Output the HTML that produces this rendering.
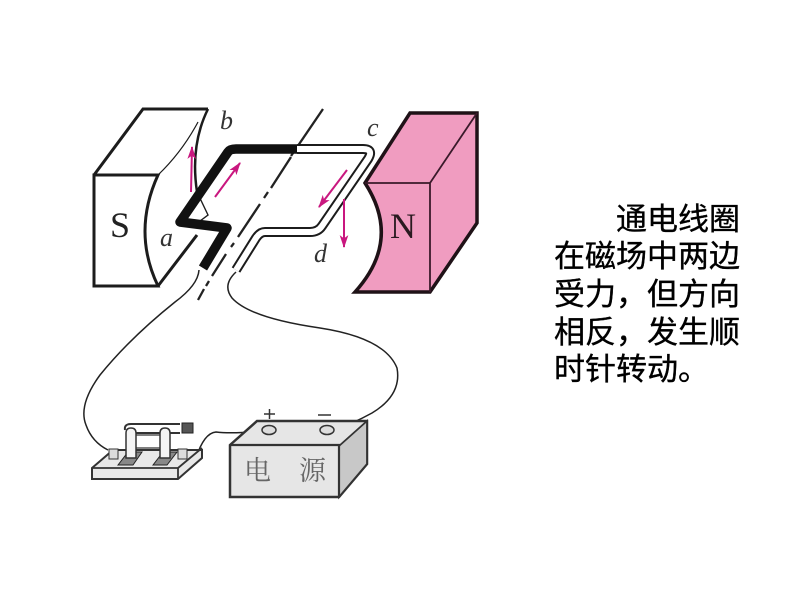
<!DOCTYPE html>
<html><head><meta charset="utf-8">
<style>
html,body{margin:0;padding:0;background:#fff;width:800px;height:600px;overflow:hidden}
svg{position:absolute;left:0;top:0}
.t{position:absolute;left:554px;width:200px;font:31px/31px "Liberation Sans","Noto Sans CJK SC",sans-serif;color:#000;white-space:pre;-webkit-text-stroke:.35px #000}
</style></head><body>
<svg width="800" height="600" viewBox="0 0 800 600">
<defs>
<marker id="m" markerWidth="13" markerHeight="13" refX="5.500" refY="3" orient="auto" markerUnits="userSpaceOnUse" viewBox="0 0 6 6"><path d="M0 1L6 3L0 5L1.500 3Z" fill="#c9177f"/></marker>
</defs>
<!-- axis -->
<g fill="none" stroke="#222" stroke-width="2.300">
<path d="M323 109L291 156"/>
<path d="M291 157L271 188M268 192L264 198M260 204L238 237M234 243L231 247M226 254L212 276M209 281L206 286M204 289L198 300"/>
</g>
<!-- S magnet -->
<g fill="#fff" stroke="#1c1c1c" stroke-linejoin="miter">
<path d="M94 175H158Q132 232 158 286H94Z" stroke-width="3"/>
<path d="M94 175L143 109H208" fill="none" stroke-width="3"/>
<path d="M158 175Q182 152 198 122" fill="none" stroke-width="1.200"/>
<path d="M208 109Q190 145 197 192" fill="none" stroke-width="2.500"/>
<path d="M197 192L208 215L196 224" fill="none" stroke-width="1.400"/>
<path d="M158 286L197 235" fill="none" stroke-width="3"/>
<path d="M158 175Q132 232 158 286" fill="none" stroke-width="1.200"/>
</g>
<!-- N magnet -->
<path d="M365 183L410 113H477V223L430 292H355Q402 240 365 183Z" fill="#f09cc0" stroke="#1f1217" stroke-width="3.500" stroke-linejoin="miter"/>
<path d="M365 183H430L477 113M430 183V292" fill="none" stroke="#3a1a2a" stroke-width="1.800"/>
<!-- coil white -->
<path d="M297 149H363Q374 149 368 159L322 226Q318 232 310 232H265Q260 232 256 238L236 270" fill="none" stroke="#1c1c1c" stroke-width="10"/>
<path d="M297 149H363Q374 149 368 159L322 226Q318 232 310 232H265Q260 232 256 238L236 270" fill="none" stroke="#fff" stroke-width="6"/>
<!-- coil black -->
<path d="M203 268L227 228L180 222L228 152Q230 149 236 149H297" fill="none" stroke="#111" stroke-width="9.500" stroke-linejoin="round"/>
<!-- pink arrows -->
<g fill="none" stroke="#c9177f" stroke-width="2" marker-end="url(#m)">
<path d="M191 192L192 147"/>
<path d="M215 197L240 163"/>
<path d="M347 170L319 207"/>
<path d="M344 199V247"/>
</g>
<!-- letters -->
<g font-family="Liberation Serif,serif" fill="#333">
<text x="220" y="129" font-size="26" font-style="italic">b</text>
<text x="367" y="136" font-size="26" font-style="italic">c</text>
<text x="160" y="246" font-size="26" font-style="italic">a</text>
<text x="314" y="262" font-size="26" font-style="italic">d</text>
<text x="110" y="237" font-size="36" fill="#222">S</text>
<text x="390" y="238" font-size="36" fill="#2a1a20">N</text>
</g>
<!-- wires -->
<g fill="none" stroke="#222" stroke-width="1.500">
<path d="M199 270Q198 285 175 302Q130 338 100 375Q78 405 86 425Q92 442 108 450"/>
<path d="M236 272Q222 285 232 298Q250 318 320 328Q385 338 397 368Q402 395 372 413Q352 424 332 431"/>
<path d="M196 458Q204 433 216 432Q232 434 262 431"/>
</g>
<!-- switch -->
<path d="M92 468L113 450H202V458L178 479H92Z" fill="#e8e8e8" stroke="#333" stroke-width="2"/>
<path d="M92 468H178V479M178 468L202 448" fill="none" stroke="#333" stroke-width="1.800"/>
<path d="M118 465L128 452H142L133 465ZM153 465L163 452H177L167 465Z" fill="#888" stroke="#222" stroke-width="1"/>
<path d="M135 435H161M135 448H161" fill="none" stroke="#555" stroke-width="1.500"/>
<path d="M180 424H131Q124 424 125 430M180 433H135" fill="none" stroke="#333" stroke-width="2"/>
<path d="M126 458V433Q126 428 131 428Q136 428 136 433V458ZM160 458V433Q160 428 165 428Q170 428 170 433V458Z" fill="#f4f4f4" stroke="#333" stroke-width="1.500"/>
<rect x="182" y="423" width="11" height="10" fill="#555" stroke="#222"/>
<rect x="109" y="449" width="9" height="10" fill="#ddd" stroke="#333"/>
<rect x="178" y="449" width="9" height="10" fill="#ddd" stroke="#333"/>
<!-- battery -->
<path d="M230 445L257 421H367V464L339 497H230Z" fill="#e6e6e6" stroke="#333" stroke-width="2.500"/>
<path d="M339 446L367 421V464L339 497Z" fill="#c8c8c8" stroke="#333" stroke-width="1.800"/>
<path d="M230 445H339V497" fill="none" stroke="#333" stroke-width="2.200"/>
<ellipse cx="269" cy="430" rx="7" ry="4.500" fill="#ddd" stroke="#333" stroke-width="1.500"/>
<ellipse cx="327" cy="430" rx="7" ry="4.500" fill="#ddd" stroke="#333" stroke-width="1.500"/>
<path d="M264 414H275M269.500 409V419M318 415H331" stroke="#333" stroke-width="1.500"/>
<text x="244" y="480" font-size="27" fill="#666" font-family="Liberation Serif,'Noto Serif CJK SC',serif">电</text>
<text x="299" y="480" font-size="27" fill="#666" font-family="Liberation Serif,'Noto Serif CJK SC',serif">源</text>
</svg>
<div class="t" style="top:204px;left:616px">通电线圈</div>
<div class="t" style="top:241px">在磁场中两边</div>
<div class="t" style="top:279px">受力，但方向</div>
<div class="t" style="top:317px">相反，发生顺</div>
<div class="t" style="top:354px">时针转动。</div>
</body></html>
